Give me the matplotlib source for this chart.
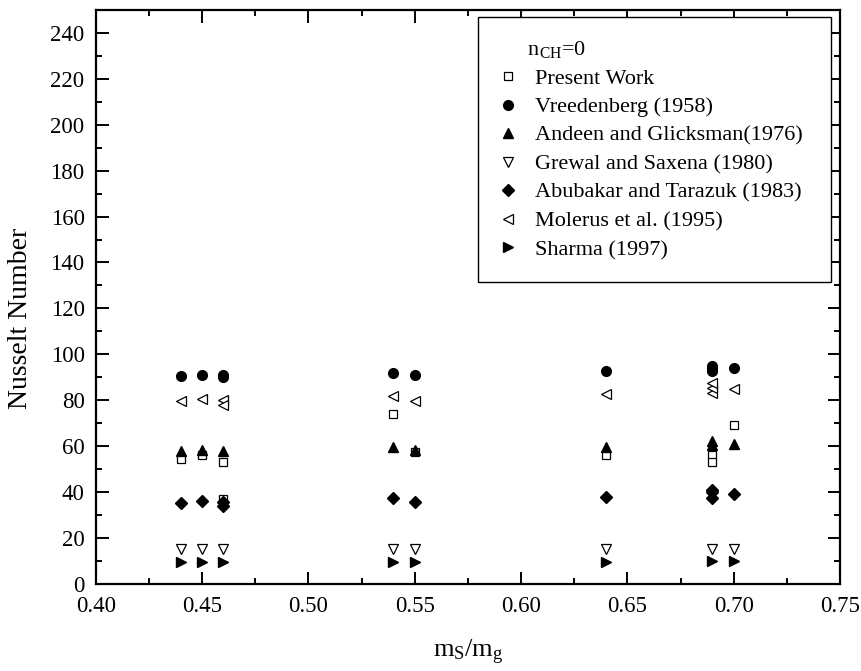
import numpy as np
import matplotlib
matplotlib.use('Agg')
import matplotlib.pyplot as plt
from matplotlib.ticker import MultipleLocator

plt.rcParams['font.family'] = ['Liberation Serif', 'DejaVu Serif']
plt.rcParams['mathtext.fontset'] = 'custom'
plt.rcParams['mathtext.rm'] = 'Liberation Serif'
plt.rcParams['mathtext.it'] = 'Liberation Serif'

# Data (x = ms/mg, y = Nusselt number)
present_x = [0.44, 0.45, 0.46, 0.46, 0.54, 0.55, 0.64, 0.69, 0.69, 0.70]
present_y = [54.5, 56, 53, 37, 74, 57.5, 56, 56, 53, 69]

vreed_x = [0.44, 0.45, 0.46, 0.46, 0.54, 0.55, 0.64, 0.69, 0.69, 0.69, 0.70]
vreed_y = [90.5, 91, 90, 91, 92, 91, 92.5, 92.5, 94, 95, 94]

andeen_x = [0.44, 0.45, 0.46, 0.54, 0.55, 0.64, 0.69, 0.69, 0.70]
andeen_y = [58, 58.5, 58, 59.5, 58.5, 59.5, 60.5, 62, 61]

grewal_x = [0.44, 0.45, 0.46, 0.54, 0.55, 0.64, 0.69, 0.70]
grewal_y = [15, 15, 15, 15, 15, 15, 15, 15]

abu_x = [0.44, 0.45, 0.46, 0.46, 0.54, 0.55, 0.64, 0.69, 0.69, 0.69, 0.70]
abu_y = [35, 36, 35.5, 34, 37.5, 35.5, 38, 37.5, 40, 41, 39]

molerus_x = [0.44, 0.45, 0.46, 0.46, 0.54, 0.55, 0.64, 0.69, 0.69, 0.69, 0.70]
molerus_y = [79.5, 80.5, 80, 78, 82, 79.5, 82.5, 83, 85.5, 87.5, 85]

sharma_x = [0.44, 0.45, 0.46, 0.54, 0.55, 0.64, 0.69, 0.70]
sharma_y = [9.5, 9.5, 9.5, 9.5, 9.5, 9.5, 10, 10]

fig = plt.figure(figsize=(8.62, 6.71), dpi=100)
ax = fig.add_axes([0.111, 0.13, 0.8635, 0.855])

ms = 7
ax.plot(present_x, present_y, 's', ms=6, mfc='white', mec='black', mew=0.9, label='Present Work')
ax.plot(vreed_x, vreed_y, 'o', ms=ms, color='black', label='Vreedenberg (1958)')
ax.plot(andeen_x, andeen_y, '^', ms=ms, color='black', label='Andeen and Glicksman(1976)')
ax.plot(grewal_x, grewal_y, 'v', ms=ms, mfc='white', mec='black', mew=0.9, label='Grewal and Saxena (1980)')
ax.plot(abu_x, abu_y, 'D', ms=6, color='black', label='Abubakar and Tarazuk (1983)')
ax.plot(molerus_x, molerus_y, '<', ms=ms, mfc='white', mec='black', mew=0.9, label='Molerus et al. (1995)')
ax.plot(sharma_x, sharma_y, '>', ms=ms, color='black', label='Sharma (1997)')

ax.set_xlim(0.40, 0.75)
ax.set_ylim(0, 250)
xt = np.arange(0.40, 0.751, 0.05)
ax.set_xticks(xt)
ax.set_xticklabels(['%.2f' % v for v in xt])
ax.set_yticks(np.arange(0, 241, 20))
ax.xaxis.set_minor_locator(MultipleLocator(0.025))
ax.yaxis.set_minor_locator(MultipleLocator(10))

ax.tick_params(which='both', direction='in', top=True, right=True, labelsize=16.5, width=1.4)
ax.tick_params(which='major', length=9)
ax.tick_params(axis='x', which='major', pad=9)
ax.tick_params(axis='y', which='major', pad=8)
ax.tick_params(which='minor', length=4.5)
for sp in ax.spines.values():
    sp.set_linewidth(1.6)

# axis titles placed as in the reference
fig.text(21 / 862, 1 - 318 / 671, 'Nusselt Number', rotation=90, ha='center', va='center', fontsize=20)
fig.text(468 / 862, 1 - 657 / 671, 'm$_S$/m$_g$', ha='center', va='baseline', fontsize=19)

leg = ax.legend(loc='upper left', bbox_to_anchor=(0.513, 0.988, 0.475, 0.0), mode='expand',
                title='     n$_{CH}$=0', alignment='left', fontsize=16, title_fontsize=16,
                frameon=True, fancybox=False, edgecolor='black', framealpha=1,
                handlelength=0.7, handletextpad=0.87, labelspacing=0.36,
                borderpad=1.0, borderaxespad=0)
leg.get_frame().set_linewidth(1.0)

fig.savefig('out.png', dpi=100)
